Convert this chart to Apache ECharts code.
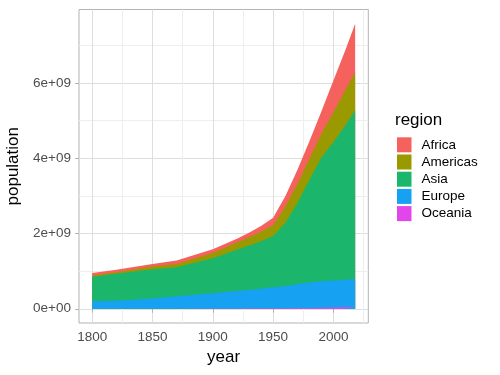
<!DOCTYPE html>
<html>
<head>
<meta charset="utf-8">
<script src="https://cdn.jsdelivr.net/npm/echarts@6/dist/echarts.min.js"></script>
<style>
html,body{margin:0;padding:0;background:#fff;}
#c{width:500px;height:375px;}
</style>
</head>
<body>
<div id="c"></div>
<script>
// ---- data (population) ----
const years    = [1800, 1820, 1850, 1870, 1900, 1920, 1930, 1940, 1950, 1960, 1970, 1980, 1990, 2000, 2010, 2018];
const oceania  = [0.002e9, 0.002e9, 0.002e9, 0.003e9, 0.006e9, 0.009e9, 0.010e9, 0.011e9, 0.013e9, 0.016e9, 0.019e9, 0.023e9, 0.027e9, 0.031e9, 0.037e9, 0.041e9];
const europe   = [0.198e9, 0.208e9, 0.268e9, 0.327e9, 0.404e9, 0.461e9, 0.490e9, 0.519e9, 0.557e9, 0.584e9, 0.631e9, 0.677e9, 0.703e9, 0.719e9, 0.733e9, 0.749e9];
const asia     = [0.650e9, 0.720e9, 0.780e9, 0.770e9, 0.930e9, 1.100e9, 1.180e9, 1.260e9, 1.360e9, 1.680e9, 2.150e9, 2.720e9, 3.290e9, 3.670e9, 4.110e9, 4.480e9];
const americas = [0.035e9, 0.040e9, 0.070e9, 0.090e9, 0.140e9, 0.190e9, 0.220e9, 0.260e9, 0.290e9, 0.420e9, 0.500e9, 0.560e9, 0.620e9, 0.800e9, 0.940e9, 1.010e9];
const africa   = [0.065e9, 0.065e9, 0.070e9, 0.090e9, 0.100e9, 0.100e9, 0.120e9, 0.150e9, 0.200e9, 0.280e9, 0.380e9, 0.460e9, 0.600e9, 0.840e9, 1.060e9, 1.290e9];

const regionNames  = ['Africa', 'Americas', 'Asia', 'Europe', 'Oceania'];
const xMajorTicks  = [1800, 1850, 1900, 1950, 2000];
const xMinorTicks  = [1825, 1875, 1925, 1975, 2025];
const yMajorTicks  = [0, 2e9, 4e9, 6e9];
const yMinorTicks  = [1e9, 3e9, 5e9, 7e9];

// ---- styling ----
const colors = {Africa:'#F5615D', Americas:'#9A9A00', Asia:'#1BB56B', Europe:'#17A1F2', Oceania:'#E246EA'};
const FONT = "'Liberation Sans', Arial, Helvetica, sans-serif";

const regionData = {Africa: africa, Americas: americas, Asia: asia, Europe: europe, Oceania: oceania};
// bottom -> top stacking order (ggplot stacks the last factor level at the bottom)
const stackOrder = ['Oceania', 'Europe', 'Asia', 'Americas', 'Africa'];

// cumulative tops of each band
const cumTop = {};
let running = years.map(() => 0);
stackOrder.forEach(r => {
  running = running.map((s, i) => s + regionData[r][i]);
  cumTop[r] = running.slice();
});

// axis limits with ggplot 5% expansion
const xMin = years[0], xMax = years[years.length - 1];
const xPad = (xMax - xMin) * 0.05;
const yTop = Math.max(...running);
const yPad = yTop * 0.05;

// draw the tallest band first so the lower bands paint over it
const drawOrder = stackOrder.slice().reverse();
const series = drawOrder.map((r, k) => ({
  name: r,
  type: 'line',
  xAxisIndex: 0,
  yAxisIndex: 0,
  z: 2 + k,
  symbol: 'none',
  showSymbol: false,
  lineStyle: {width: 0},
  itemStyle: {color: colors[r]},
  areaStyle: {color: colors[r], opacity: 1, origin: 0},
  emphasis: {disabled: true},
  silent: true,
  data: years.map((y, i) => [y, cumTop[r][i]])
}));

const yFmt = v => v === 0 ? '0e+00' : (Math.round(v / 1e9)) + 'e+09';

const chart = echarts.init(document.getElementById('c'), null, {renderer: 'canvas'});
chart.setOption({
  animation: false,
  backgroundColor: '#ffffff',
  grid: {left: 79, top: 9.5, width: 289.3, height: 313.5, show: true, borderColor: '#B3B3B3', borderWidth: 1,
         backgroundColor: 'transparent', containLabel: false, outerBoundsMode: 'none'},
  xAxis: [
    {
      type: 'value', min: xMin - xPad, max: xMax + xPad, gridIndex: 0,
      name: 'year', nameLocation: 'middle', nameGap: 26,
      nameTextStyle: {fontFamily: FONT, fontSize: 17, color: '#000'},
      axisLine: {show: false},
      axisTick: {show: true, customValues: xMajorTicks, length: 4, lineStyle: {color: '#B3B3B3', width: 1}},
      axisLabel: {customValues: xMajorTicks, formatter: v => String(v), fontFamily: FONT, fontSize: 13.5, color: '#4D4D4D', margin: 7},
      splitLine: {show: true, lineStyle: {color: '#DEDEDE', width: 1}}
    },
    {
      type: 'value', min: xMin - xPad, max: xMax + xPad, gridIndex: 0,
      axisLine: {show: false},
      axisTick: {show: false, customValues: xMinorTicks},
      axisLabel: {show: false, customValues: xMinorTicks},
      splitLine: {show: true, lineStyle: {color: '#EEEEEE', width: 1}}
    }
  ],
  yAxis: [
    {
      type: 'value', min: -yPad, max: yTop + yPad, gridIndex: 0,
      name: 'population', nameLocation: 'middle', nameGap: 53.5,
      nameTextStyle: {fontFamily: FONT, fontSize: 17, color: '#000'},
      axisLine: {show: false},
      axisTick: {show: true, customValues: yMajorTicks, length: 4, lineStyle: {color: '#B3B3B3', width: 1}},
      axisLabel: {customValues: yMajorTicks, formatter: yFmt, fontFamily: FONT, fontSize: 13.5, color: '#4D4D4D', margin: 8},
      splitLine: {show: true, lineStyle: {color: '#DEDEDE', width: 1}}
    },
    {
      type: 'value', min: -yPad, max: yTop + yPad, gridIndex: 0,
      axisLine: {show: false},
      axisTick: {show: false, customValues: yMinorTicks},
      axisLabel: {show: false, customValues: yMinorTicks},
      splitLine: {show: true, lineStyle: {color: '#EEEEEE', width: 1}}
    }
  ],
  legend: {
    data: regionNames,
    orient: 'vertical',
    left: 397, top: 137.3,
    padding: 0,
    itemWidth: 14.5, itemHeight: 15, itemGap: 2.2,
    icon: 'rect',
    selectedMode: false,
    textStyle: {fontFamily: FONT, fontSize: 13.5, color: '#000', padding: [0, 0, 0, 5]}
  },
  graphic: [{
    type: 'text', left: 395, top: 112,
    style: {text: 'region', fontFamily: FONT, fontSize: 17, fill: '#000'}
  }],
  series: series
});
</script>
</body>
</html>
